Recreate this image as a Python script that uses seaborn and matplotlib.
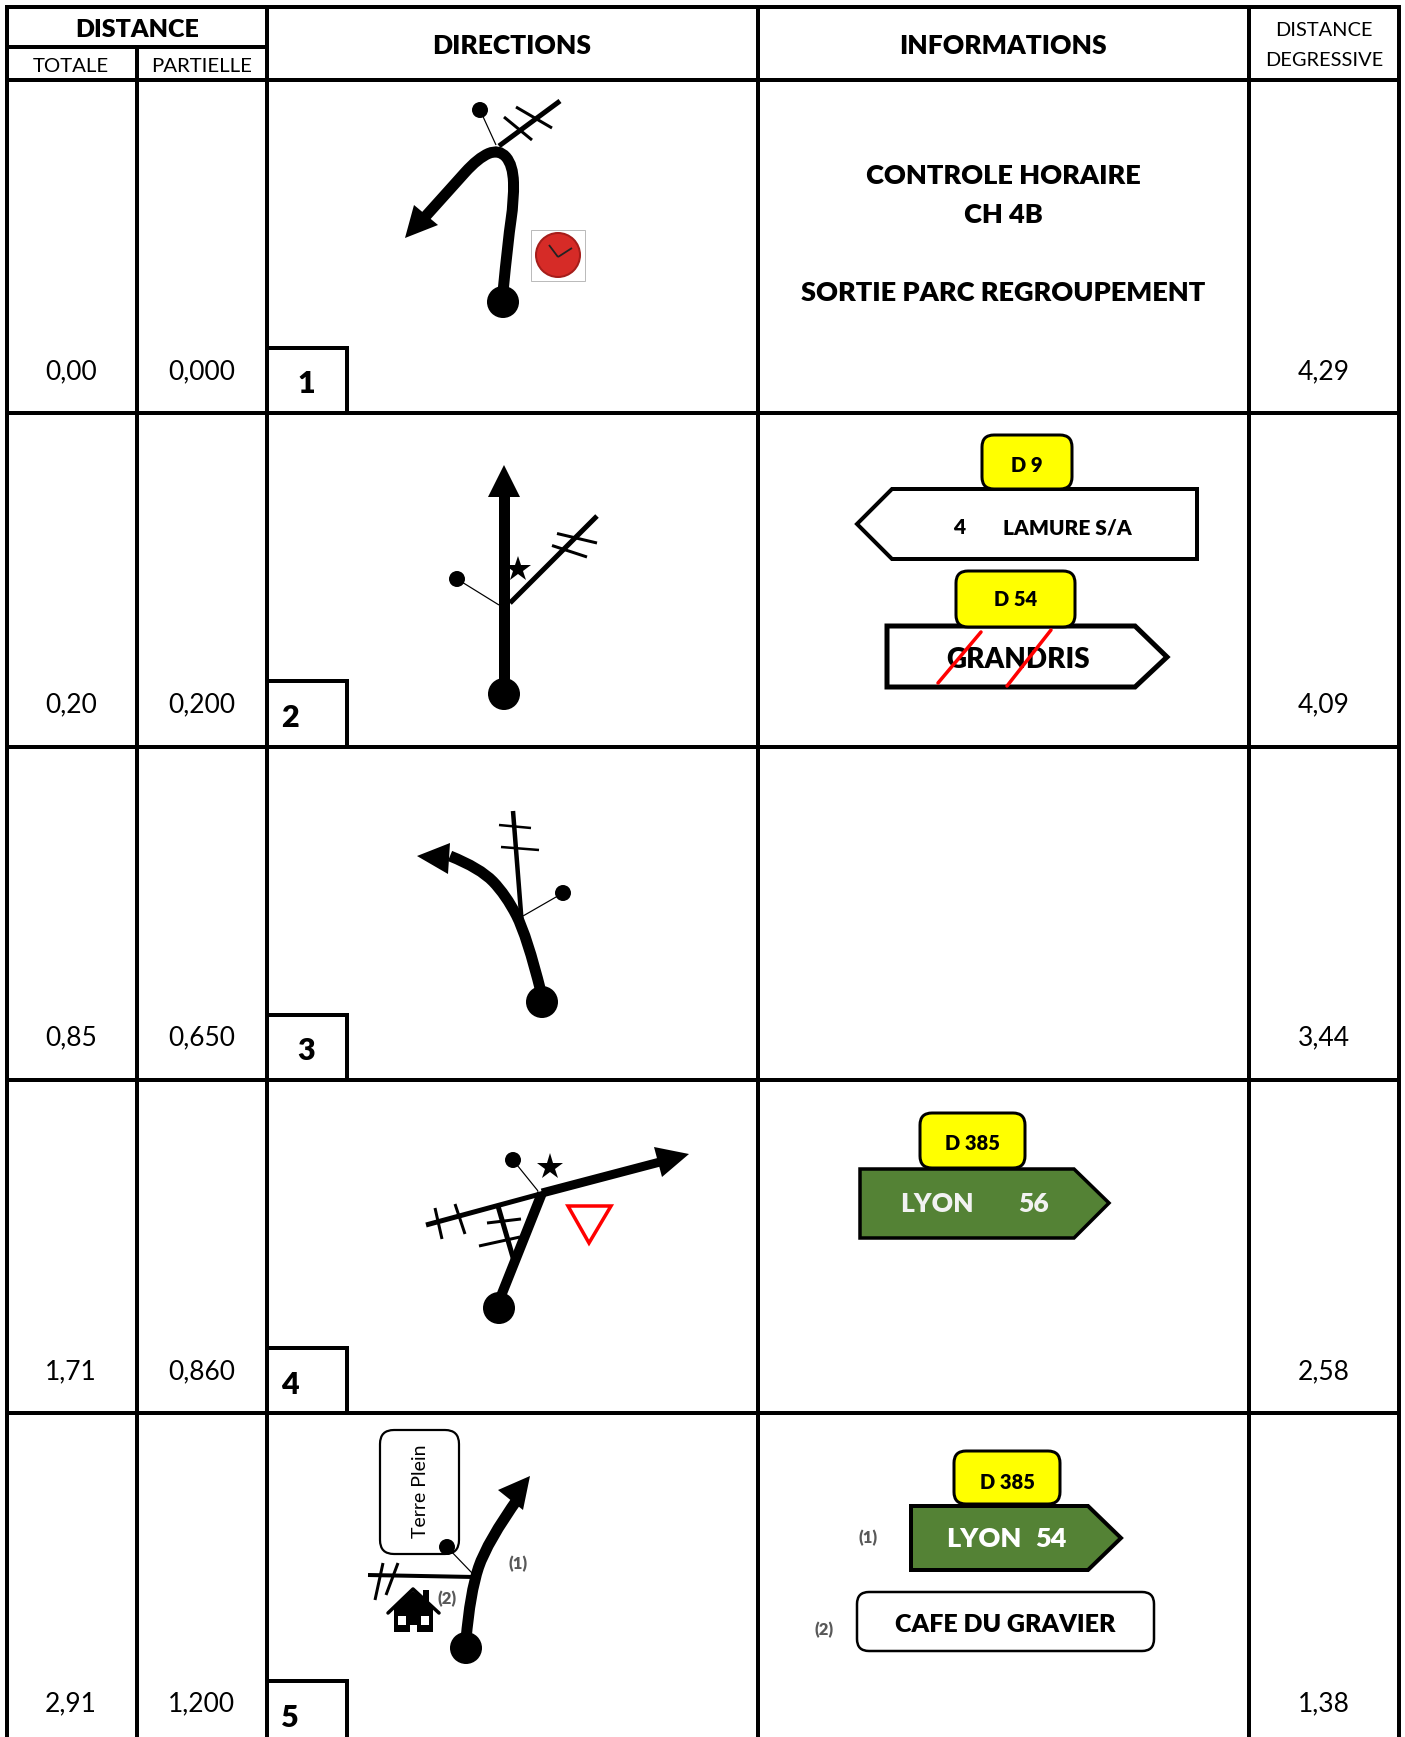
import matplotlib
matplotlib.use("Agg")
import matplotlib.pyplot as plt
import seaborn as sns
from matplotlib.patches import Circle, FancyBboxPatch, PathPatch, Polygon, Rectangle
from matplotlib.path import Path

# valeurs du road book
totale = ["0,00", "0,20", "0,85", "1,71", "2,91"]
partielle = ["0,000", "0,200", "0,650", "0,860", "1,200"]
degressive = ["4,29", "4,09", "3,44", "2,58", "1,38"]
numeros = ["1", "2", "3", "4", "5"]
infos_ch = ["CONTROLE HORAIRE", "CH 4B", "SORTIE PARC REGROUPEMENT"]
routes_jaunes = ["D 9", "D 54", "D 385", "D 385"]
panneaux_blancs = ["LAMURE S/A", "GRANDRIS", "CAFE DU GRAVIER"]
panneaux_verts = [("LYON", "56"), ("LYON", "54")]

VERT = "#548235"
JAUNE = "#ffff00"
ROUGE = "#ff0000"

sns.set_theme(style="white")
plt.rcParams["font.family"] = ["Lato", "DejaVu Sans"]

fig = plt.figure(figsize=(14.05, 17.37), dpi=100)
ax = fig.add_axes([0, 0, 1, 1])
ax.set_xlim(0, 1405)
ax.set_ylim(1737, 0)
ax.axis("off")

def px(v):
    return v * 0.72

def trait(p1, p2, l=3, c="black", cap="butt"):
    ax.plot([p1[0], p2[0]], [p1[1], p2[1]], color=c, lw=px(l), solid_capstyle=cap)

def texte(x, y, s, size=17, bold=False, c="black", rot=0):
    # le texte sort un peu haut avec Lato, on descend de 3 px
    ax.text(x, y + 3, s, fontsize=size, fontweight="heavy" if bold else "normal", color=c,
            ha="center", va="center", rotation=rot, rotation_mode="anchor", zorder=8)

def route(pts, l=10):
    # courbe lissee qui passe pres des points
    verts = [pts[0]]
    codes = [Path.MOVETO]
    for i in range(1, len(pts) - 1):
        milieu = ((pts[i][0] + pts[i + 1][0]) / 2, (pts[i][1] + pts[i + 1][1]) / 2)
        verts += [pts[i], milieu if i < len(pts) - 2 else pts[i + 1]]
        codes += [Path.CURVE3, Path.CURVE3]
    if len(pts) == 2:
        verts.append(pts[1])
        codes.append(Path.LINETO)
    ax.add_patch(PathPatch(Path(verts, codes), fc="none", ec="black", lw=px(l), capstyle="butt", zorder=3))

def fleche(pointe, b1, b2):
    ax.add_patch(Polygon([pointe, b1, b2], closed=True, fc="black", ec="none", zorder=4))

def point(x, y, r=16):
    ax.add_patch(Circle((x, y), r, fc="black", ec="none", zorder=5))

def repere(dot, fin):
    point(dot[0], dot[1], 8)
    trait(dot, fin, 1.2)

def cartouche(x0, y0, x1, y1, s, size=14.5, fc=JAUNE, l=3, dy=0):
    ax.add_patch(FancyBboxPatch((x0 + 12, y0 + 12), x1 - x0 - 24, y1 - y0 - 24,
                                boxstyle="round,pad=12,rounding_size=12", fc=fc, ec="black", lw=px(l), zorder=6))
    texte((x0 + x1) / 2, (y0 + y1) / 2 + dy, s, size=size, bold=True)

def panneau(pts, fc="white", l=4):
    ax.add_patch(Polygon(pts, closed=True, fc=fc, ec="black", lw=px(l), joinstyle="miter", zorder=2))

# ---------- grille ----------
EP = 4
for y in [7, 80, 413, 747, 1080, 1413]:
    trait((5, y), (1401, y), EP)
trait((7, 47), (267, 47), EP)
trait((137, 45), (137, 1737), EP)
for x in [7, 267, 758, 1249, 1399]:
    trait((x, 5), (x, 1737), EP)

# ---------- en-tetes ----------
texte(137, 27, "DISTANCE", 18, True)
texte(71, 63, "TOTALE", 14.7)
texte(201.5, 63, "PARTIELLE", 14.7)
texte(512, 43, "DIRECTIONS", 19, True)
texte(1003, 43, "INFORMATIONS", 19, True)
texte(1324, 28, "DISTANCE", 14.4)
texte(1324, 58, "DEGRESSIVE", 14.4)

# ---------- valeurs et numeros ----------
y_val = [369, 702, 1035, 1369, 1701]
y_num = [381, 715, 1048, 1382, 1715]
x_num = [306, 290, 306, 290, 290]
y_box = [348, 681, 1015, 1348, 1681]
for i in range(5):
    texte(71, y_val[i], totale[i], 19)
    texte(201.5, y_val[i], partielle[i], 19)
    texte(1324, y_val[i], degressive[i], 19)
    texte(x_num[i], y_num[i], numeros[i], 22, True)
    trait((267, y_box[i]), (349, y_box[i]), EP)
    trait((347, y_box[i]), (347, min(y_box[i] + 65, 1737)), EP)

# ---------- case 1 ----------
route([(503, 292), (508, 240), (514, 200), (513, 165), (499, 149), (478, 158), (452, 187), (425, 217)], 11)
fleche((405, 238), (414, 205), (438, 225))
point(503, 302)
trait((499, 146), (560, 101), 5)
trait((504, 117), (532, 140), 3)
trait((516, 107), (552, 128), 3)
repere((480, 110), (496, 145))
ax.add_patch(Rectangle((531, 230), 54, 51, fc="white", ec="#bbbbbb", lw=px(1)))
ax.add_patch(Circle((558, 255), 22, fc="#d62b27", ec="#a51d1a", lw=px(2)))
trait((558, 257), (549, 245), 1.8, "#222222")
trait((558, 257), (572, 248), 1.8, "#222222")
texte(1003, 173, infos_ch[0], 19.5, True)
texte(1003, 212, infos_ch[1], 19.5, True)
texte(1003, 290, infos_ch[2], 19.5, True)

# ---------- case 2 ----------
route([(504, 694), (504, 494)], 11)
fleche((504, 465), (488, 497), (520, 497))
point(504, 694)
trait((510, 603), (597, 516), 5)
trait((557, 533.5), (597, 543), 3)
trait((552, 545.5), (587, 557), 3)
ax.plot([518], [569], marker="*", ms=19, color="black", mew=0, zorder=4)
repere((457, 579), (499, 605))
panneau([(857, 524), (892, 489), (1197, 489), (1197, 559), (892, 559)], l=4)
texte(959, 525, "4", 15, True)
texte(1067, 525, panneaux_blancs[0], 15, True)
cartouche(982, 435, 1072, 489, routes_jaunes[0], dy=1)
panneau([(887, 626), (1135, 626), (1167, 657), (1135, 687), (887, 687)], l=5)
texte(1018, 657, panneaux_blancs[1], 20, True)
cartouche(956, 571, 1075, 627, routes_jaunes[1], dy=-3)
ax.plot([981, 938], [632, 683], color=ROUGE, lw=px(3.5), zorder=9)
ax.plot([1051, 1007], [630, 686], color=ROUGE, lw=px(3.5), zorder=9)

# ---------- case 3 ----------
route([(541, 992), (527, 936), (506, 895), (480, 868), (450, 856)], 11)
fleche((417, 856), (450, 843), (448, 874))
point(542, 1002)
trait((522, 926), (513, 811), 4.5)
trait((499, 825), (531, 828), 2.5)
trait((501, 847), (539, 850), 2.5)
repere((563, 893), (523, 916))

# ---------- case 4 ----------
route([(501, 1296), (542, 1193)], 10)
route([(542, 1193), (660, 1162)], 9)
fleche((689, 1154), (654, 1147), (662, 1177))
point(499, 1308)
trait((544, 1193), (426, 1225), 5)
trait((435, 1208), (442, 1239), 3)
trait((455, 1204), (465, 1234), 3)
trait((498, 1206), (514, 1261), 5)
trait((487, 1223), (521, 1219), 3)
trait((479, 1246), (520, 1237), 3)
repere((513, 1160), (538, 1191))
ax.plot([550], [1167], marker="*", ms=20, color="black", mew=0, zorder=4)
ax.add_patch(Polygon([(568, 1206), (611, 1206), (589, 1243)], closed=True, fc="none", ec=ROUGE, lw=px(3.5)))
panneau([(860, 1169), (1074, 1169), (1109, 1203), (1074, 1238), (860, 1238)], fc=VERT, l=3.5)
texte(937, 1201, panneaux_verts[0][0], 19, True, "#f2f2f2")
texte(1034, 1201, panneaux_verts[0][1], 19, True, "#f2f2f2")
cartouche(920, 1113, 1025, 1168, routes_jaunes[2], dy=0)

# ---------- case 5 ----------
route([(466, 1640), (470, 1593), (487, 1542), (519, 1497)], 11)
fleche((530, 1476), (498, 1490), (523, 1510))
point(466, 1648)
ax.add_patch(FancyBboxPatch((394, 1444), 51, 96, boxstyle="round,pad=14,rounding_size=14",
                            fc="white", ec="black", lw=px(2.2), zorder=1))
texte(420, 1488, "Terre Plein", 14, rot=90)
repere((447, 1547), (472, 1573))
trait((368, 1575), (474, 1577), 4)
trait((383, 1563), (375, 1600), 3)
trait((398, 1563), (386, 1595), 3)
# maison
ax.add_patch(Polygon([(394, 1632), (394, 1606), (413, 1591), (433, 1606), (433, 1632)], closed=True, fc="black", ec="none"))
ax.add_patch(Rectangle((423, 1590), 6, 16, fc="black", ec="none"))
ax.plot([388, 413, 439], [1613, 1589, 1613], color="black", lw=px(3.5))
for xf in [398, 421]:
    ax.add_patch(Rectangle((xf, 1616), 8, 9, fc="white", ec="none"))
ax.add_patch(Rectangle((410, 1625), 7, 7, fc="white", ec="none"))
texte(518, 1561, "(1)", 12, True, "#595959")
texte(447, 1596, "(2)", 12, True, "#595959")
panneau([(911, 1506), (1088, 1506), (1121, 1538), (1088, 1570), (911, 1570)], fc=VERT, l=4)
texte(984, 1536, panneaux_verts[1][0], 19.5, True, "white")
texte(1051, 1536, panneaux_verts[1][1], 19.5, True, "white")
cartouche(954, 1451, 1060, 1504, routes_jaunes[3], dy=2)
texte(868, 1535, "(1)", 12, True, "#595959")
texte(824, 1627, "(2)", 12, True, "#595959")
cartouche(857, 1592, 1154, 1651, panneaux_blancs[2], 18, fc="white", l=2.5, dy=1)

fig.savefig("out.png", dpi=100, facecolor="white")
